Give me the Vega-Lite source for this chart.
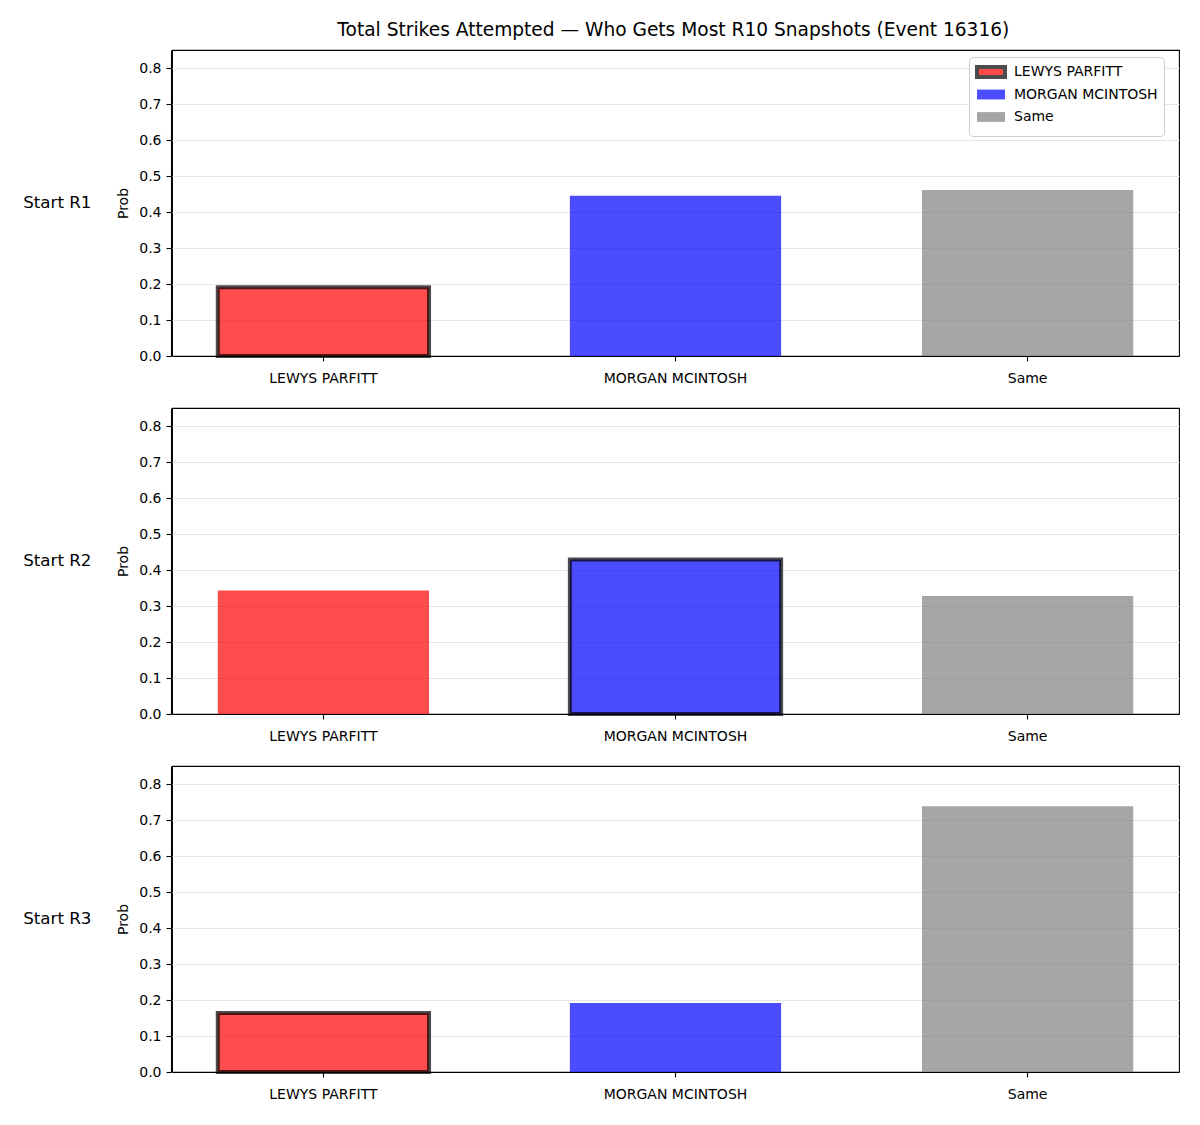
{
  "$schema": "https://vega.github.io/schema/vega-lite/v6.json",
  "padding": {"left": 23, "top": 20, "right": 20, "bottom": 10},
  "title": {
    "text": "Total Strikes Attempted — Who Gets Most R10 Snapshots (Event 16316)",
    "fontSize": 18.6,
    "font": "DejaVu Sans",
    "fontWeight": "normal",
    "color": "black",
    "anchor": "middle",
    "dx": 72,
    "offset": 10
  },
  "data": {
    "values": [
      {"start": "Start R1", "outcome": "LEWYS PARFITT", "prob": 0.191, "hl": true},
      {"start": "Start R1", "outcome": "MORGAN MCINTOSH", "prob": 0.445, "hl": false},
      {"start": "Start R1", "outcome": "Same", "prob": 0.461, "hl": false},
      {"start": "Start R2", "outcome": "LEWYS PARFITT", "prob": 0.343, "hl": false},
      {"start": "Start R2", "outcome": "MORGAN MCINTOSH", "prob": 0.429, "hl": true},
      {"start": "Start R2", "outcome": "Same", "prob": 0.328, "hl": false},
      {"start": "Start R3", "outcome": "LEWYS PARFITT", "prob": 0.164, "hl": true},
      {"start": "Start R3", "outcome": "MORGAN MCINTOSH", "prob": 0.192, "hl": false},
      {"start": "Start R3", "outcome": "Same", "prob": 0.738, "hl": false}
    ]
  },
  "facet": {
    "row": {
      "field": "start",
      "type": "nominal",
      "sort": ["Start R1", "Start R2", "Start R3"],
      "header": {
        "title": null,
        "labelAngle": 0,
        "labelOrient": "left",
        "labelAlign": "right",
        "labelFontSize": 16.7,
        "labelFont": "DejaVu Sans",
        "labelColor": "black",
        "labelPadding": -43
      }
    }
  },
  "spacing": 21,
  "resolve": {"axis": {"x": "independent"}},
  "spec": {
    "width": 1007,
    "height": 306,
    "mark": {"type": "bar", "fillOpacity": 0.7, "strokeOpacity": 0.7},
    "encoding": {
      "x": {
        "field": "outcome",
        "type": "nominal",
        "sort": ["LEWYS PARFITT", "MORGAN MCINTOSH", "Same"],
        "scale": {"paddingInner": 0.4, "paddingOuter": 0.13},
        "axis": {
          "title": null,
          "labelAngle": 0,
          "labelFontSize": 14,
          "labelColor": "black",
          "labelPadding": 10,
          "tickColor": "black",
          "tickSize": 5,
          "tickWidth": 1.1,
          "domainColor": "black",
          "domainWidth": 1.1,
          "grid": false
        }
      },
      "y": {
        "field": "prob",
        "type": "quantitative",
        "scale": {"domain": [0, 0.85], "nice": false, "zero": true},
        "axis": {
          "title": "Prob",
          "titleFontSize": 14,
          "titleFontWeight": "normal",
          "titleColor": "black",
          "titlePadding": 8,
          "values": [0, 0.1, 0.2, 0.3, 0.4, 0.5, 0.6, 0.7, 0.8],
          "format": ".1f",
          "labelFontSize": 14,
          "labelColor": "black",
          "labelPadding": 5,
          "tickColor": "black",
          "tickSize": 5,
          "tickWidth": 1.1,
          "domainColor": "black",
          "domainWidth": 1.1,
          "gridColor": "#e6e6e6",
          "gridWidth": 1
        }
      },
      "color": {
        "field": "outcome",
        "type": "nominal",
        "scale": {
          "domain": ["LEWYS PARFITT", "MORGAN MCINTOSH", "Same"],
          "range": ["red", "blue", "gray"]
        },
        "legend": {
          "title": null,
          "orient": "none",
          "legendX": 797,
          "legendY": 7,
          "labelFontSize": 14,
          "labelColor": "black",
          "labelOffset": 21,
          "rowPadding": -3.5,
          "padding": 6,
          "strokeColor": "#cccccc",
          "fillColor": "white",
          "cornerRadius": 4,
          "symbolType": "M-1,-0.7L3,-0.7L3,0.7L-1,0.7Z",
          "symbolSize": 196,
          "symbolOpacity": 0.7,
          "symbolStrokeColor": {"expr": "datum.value === 'LEWYS PARFITT' ? 'black' : 'transparent'"},
          "symbolStrokeWidth": 4
        }
      },
      "stroke": {"condition": {"test": "datum.hl", "value": "black"}, "value": "transparent"},
      "strokeWidth": {"condition": {"test": "datum.hl", "value": 4}, "value": 0}
    }
  },
  "config": {
    "font": "DejaVu Sans",
    "view": {"stroke": "black", "strokeWidth": 1.1}
  }
}
